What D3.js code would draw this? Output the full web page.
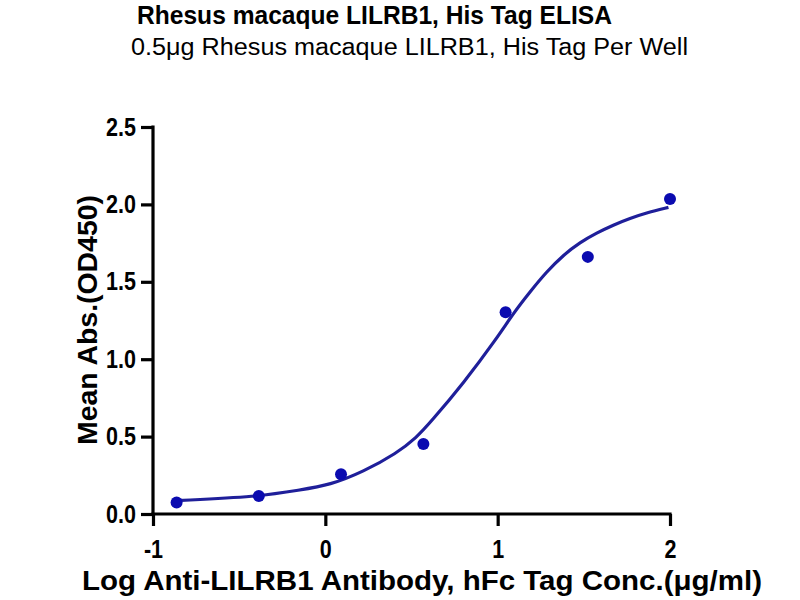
<!DOCTYPE html>
<html><head><meta charset="utf-8">
<script src="https://cdn.jsdelivr.net/npm/d3@7"></script>
<style>body{margin:0;background:#fff}svg{display:block}</style>
</head><body>
<script>
// Data (log10 concentration, mean OD450)
const logConc = [-0.863, -0.386, 0.091, 0.569, 1.046, 1.523, 2.0];
const meanAbs = [0.075, 0.116, 0.257, 0.452, 1.303, 1.661, 2.035];
// Fitted curve
const curveX = [-0.863, -0.389, -0.147, 0.027, 0.220, 0.414, 0.530, 0.608, 0.801, 0.995, 1.091, 1.188, 1.284, 1.381, 1.478, 1.575, 1.671, 1.768, 1.865, 1.991];
const curveY = [0.086, 0.112, 0.155, 0.187, 0.273, 0.392, 0.495, 0.590, 0.844, 1.135, 1.297, 1.436, 1.565, 1.673, 1.755, 1.816, 1.867, 1.910, 1.946, 1.981];
const xTicks = [-1, 0, 1, 2];
const yTicks = [0.0, 0.5, 1.0, 1.5, 2.0, 2.5];
const titleText = "Rhesus macaque LILRB1, His Tag ELISA";
const subtitleText = "0.5\u03bcg Rhesus macaque LILRB1, His Tag Per Well";
const xLabel = "Log Anti-LILRB1 Antibody, hFc Tag Conc.(\u03bcg/ml)";
const yLabel = "Mean Abs.(OD450)";

const W = 800, H = 600;
const svg = d3.select("body").append("svg").attr("width", W).attr("height", H);
const font = "'Liberation Sans', Arial, sans-serif";
const x = d3.scaleLinear().domain([-1, 2]).range([153, 670]);
const y = d3.scaleLinear().domain([0, 2.5]).range([514, 127]);

function fitText(sel, target){
  sel.attr("textLength", target).attr("lengthAdjust", "spacingAndGlyphs");
}
function squeeze(sel, k){
  sel.each(function(){
    const w = this.getComputedTextLength();
    d3.select(this).attr("textLength", w*k).attr("lengthAdjust", "spacingAndGlyphs");
  });
}

svg.append("text").attr("x", 374.5).attr("y", 24).attr("text-anchor","middle")
  .style("font-family", font).style("font-weight","bold").style("font-size","26px")
  .text(titleText).call(fitText, 475);
svg.append("text").attr("x", 409.5).attr("y", 55).attr("text-anchor","middle")
  .style("font-family", font).style("font-size","23px")
  .text(subtitleText).call(fitText, 557);

const xAxis = d3.axisBottom(x).tickValues(xTicks).tickFormat(d => String(d)).tickSize(12).tickPadding(14);
const yAxis = d3.axisLeft(y).tickValues(yTicks).tickFormat(d3.format(".1f")).tickSize(12).tickPadding(5);

const gx = svg.append("g").attr("transform", "translate(0,514)").call(xAxis);
const gy = svg.append("g").attr("transform", "translate(153,0)").call(yAxis);
[gx, gy].forEach(g => {
  g.select(".domain").attr("stroke", "#000").attr("stroke-width", 3.2).attr("stroke-linecap","square");
  g.selectAll(".tick line").attr("stroke", "#000").attr("stroke-width", 3.2);
  g.selectAll(".tick text").attr("fill", "#000")
    .style("font-family", font).style("font-weight","bold").style("font-size","25px")
    .call(squeeze, 0.86);
});
gx.select(".domain").attr("d", `M153,0H670`);
gy.select(".domain").attr("d", `M0,${y(2.5)}V514`);

svg.append("text").attr("x", 422).attr("y", 590).attr("text-anchor","middle")
  .style("font-family", font).style("font-weight","bold").style("font-size","27px")
  .text(xLabel).call(fitText, 680);
svg.append("text").attr("transform", "translate(97,320) rotate(-90)").attr("text-anchor","middle")
  .style("font-family", font).style("font-weight","bold").style("font-size","27px")
  .text(yLabel).call(fitText, 250);

const curveData = curveX.map((v,i)=>[v, curveY[i]]);
const line = d3.line().x(d=>x(d[0])).y(d=>y(d[1])).curve(d3.curveBasis);
svg.append("path").datum(curveData).attr("d", line)
  .attr("fill","none").attr("stroke","#1f1f9a").attr("stroke-width",3.2);

svg.append("g").selectAll("circle").data(logConc.map((v,i)=>[v, meanAbs[i]]))
  .join("circle").attr("cx", d=>x(d[0])).attr("cy", d=>y(d[1])).attr("r", 6)
  .attr("fill", "#0b0bb0");
</script>
</body></html>
